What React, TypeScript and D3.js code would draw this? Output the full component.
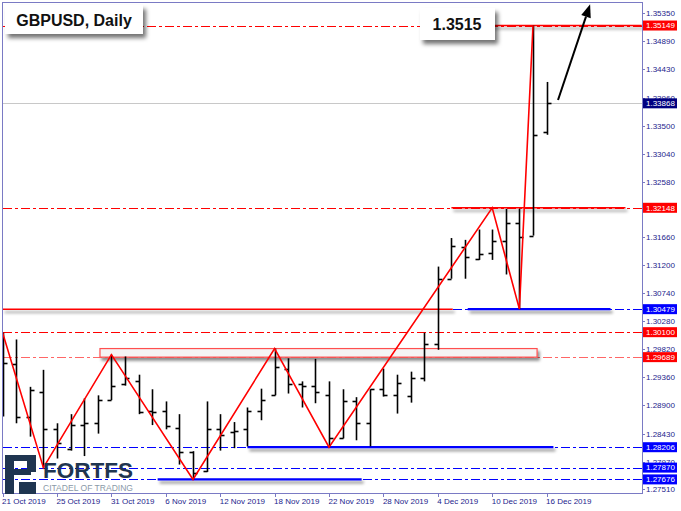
import React from 'react';
import * as d3 from 'd3';

// ---------- data ----------
const dates = [
  '21 Oct 2019','22 Oct 2019','23 Oct 2019','24 Oct 2019','25 Oct 2019','28 Oct 2019','29 Oct 2019','30 Oct 2019','31 Oct 2019',
  '1 Nov 2019','4 Nov 2019','5 Nov 2019','6 Nov 2019','7 Nov 2019','8 Nov 2019','11 Nov 2019','12 Nov 2019','13 Nov 2019',
  '14 Nov 2019','15 Nov 2019','18 Nov 2019','19 Nov 2019','20 Nov 2019','21 Nov 2019','22 Nov 2019','25 Nov 2019','26 Nov 2019',
  '27 Nov 2019','28 Nov 2019','29 Nov 2019','2 Dec 2019','3 Dec 2019','4 Dec 2019','5 Dec 2019','6 Dec 2019','9 Dec 2019',
  '10 Dec 2019','11 Dec 2019','12 Dec 2019','13 Dec 2019','16 Dec 2019'
];
const openP = [1.2998,1.2958,1.2870,1.2911,1.2850,1.2817,1.2857,1.2860,1.2899,1.2924,1.2930,1.2880,1.2880,1.2852,1.2812,1.2781,1.2850,1.2845,1.2850,1.2881,1.2906,1.2950,1.2924,1.2921,1.2906,1.2835,1.2896,1.2861,1.2916,1.2906,1.2905,1.2935,1.2990,1.3098,1.3151,1.3131,1.3141,1.3160,1.3190,1.3169,1.3340];
const highP = [1.3009,1.2998,1.2920,1.2948,1.2860,1.2875,1.2901,1.2906,1.2973,1.2970,1.2940,1.2916,1.2896,1.2875,1.2814,1.2896,1.2875,1.2862,1.2886,1.2917,1.2983,1.2967,1.2929,1.2966,1.2929,1.2916,1.2903,1.2916,1.2950,1.2940,1.2945,1.3009,1.3118,1.3165,1.3162,1.3179,1.3179,1.3213,1.3213,1.35149,1.3422];
const lowP  = [1.2871,1.2860,1.2838,1.2787,1.2802,1.2815,1.2806,1.2843,1.2898,1.2922,1.2875,1.2857,1.2850,1.2792,1.27676,1.2780,1.2815,1.2819,1.2822,1.2865,1.2906,1.2909,1.2886,1.2893,1.28206,1.2835,1.2832,1.2822,1.2904,1.2876,1.2894,1.2929,1.2981,1.3098,1.3098,1.3129,1.3129,1.3105,1.30479,1.3169,1.3335];
const closeP= [1.2960,1.2870,1.2914,1.2850,1.2827,1.2857,1.2860,1.2899,1.2922,1.2935,1.2878,1.2878,1.2855,1.2813,1.2778,1.2850,1.2840,1.2847,1.2881,1.2898,1.2952,1.2925,1.2921,1.2911,1.2835,1.2896,1.2861,1.2917,1.2906,1.2926,1.2935,1.2990,1.3098,1.3152,1.3134,1.3139,1.3160,1.3190,1.3167,1.3335,1.33868];

const priceTicks = ['1.35350','1.34890','1.34430','1.33960','1.33500','1.33040','1.32580','1.31660','1.31200','1.30740','1.30280','1.29820','1.29360','1.28900','1.28430','1.27970','1.27510'];
const dateTickStep = 4;

const levels = [1.35149, 1.32148, 1.30479, 1.30100, 1.29689, 1.28206, 1.27870, 1.27676];
const levelKinds = ['res', 'res', 'sup', 'res', 'res', 'sup', 'sup', 'sup'];
const lastPrice = 1.33868;

const zzIndex = [0, 3, 8, 14, 20, 24, 36, 38, 39];
const zzPrice = [1.3009, 1.2787, 1.2973, 1.27676, 1.2983, 1.28206, 1.32148, 1.30479, 1.35149];

const segFrom  = [34.4, 33.0, 0, 34.2, 18.0, 11.4];
const segTo    = [47.0, 45.8, 33.1, 44.7, 40.5, 26.4];
const segPrice = [1.35149, 1.32148, 1.30479, 1.30479, 1.28206, 1.27676];
const segKind  = ['res', 'res', 'res', 'sup', 'sup', 'sup'];

const zoneFrom = 7.16, zoneTo = 39.3, zoneLow = 1.29689, zoneHigh = 1.2983;
const arrowFrom = [40.84, 1.33923];
const arrowTo = [43.2, 1.35499];

const title = 'GBPUSD, Daily';
const peakText = '1.3515';

// ---------- layout ----------
const W = 681, H = 511;
const L = 3, R = 642, T = 3, B = 493;
const RED = '#ff0000', BLUE = '#0000ff', NAVY = '#000080';
const FRAME = '#7a7ac4', LABEL = '#1c1c8c';
const DASH = '9,3,3,3';
const FONT = '"Liberation Sans", Arial, sans-serif';

export default function App() {
  const x = d3.scaleLinear().domain([0, 40]).range([2.6, 546.6]);
  const y = d3.scaleLinear().domain([1.27452, 1.3552]).range([B, T]);
  const kindColor = (k: string) => (k === 'res' ? RED : BLUE);
  const cr = (v: number) => Math.round(v) + 0.5;

  const zz = d3.line<number>().x((d, i) => x(zzIndex[i])).y((d) => y(d));

  const ax1 = x(arrowFrom[0]), ay1 = y(arrowFrom[1]);
  const ax2 = x(arrowTo[0]), ay2 = y(arrowTo[1]);
  const ang = Math.atan2(ay2 - ay1, ax2 - ax1);
  const hl = 13, hw = 5;
  const bx = ax2 - hl * Math.cos(ang), by = ay2 - hl * Math.sin(ang);
  const head = `M${ax2},${ay2} L${bx + hw * Math.sin(ang)},${by - hw * Math.cos(ang)} L${bx - hw * Math.sin(ang)},${by + hw * Math.cos(ang)} Z`;

  const labelBoxes = [
    ...levels.map((p, i) => ({ p, fill: levelKinds[i] === 'res' ? RED : BLUE })),
    { p: lastPrice, fill: NAVY },
  ];

  return (
    <svg width={W} height={H} style={{ position: 'absolute', left: 0, top: 0, background: '#fff' }} fontFamily={FONT}>
      <defs>
        <filter id="sh" filterUnits="userSpaceOnUse" x="0" y="0" width={W} height={H}>
          <feDropShadow dx="2" dy="3" stdDeviation="1.6" floodColor="#000" floodOpacity="0.45" />
        </filter>
        <filter id="shb" filterUnits="userSpaceOnUse" x="0" y="0" width={W} height={H}>
          <feDropShadow dx="3" dy="4" stdDeviation="2.2" floodColor="#000" floodOpacity="0.55" />
        </filter>
        <clipPath id="plot"><rect x={L} y={T} width={R - L} height={B - T} /></clipPath>
      </defs>
      <rect x={0} y={0} width={W} height={H} fill="#fff" />

      <g clipPath="url(#plot)">
        <line x1={L} x2={R} y1={cr(y(lastPrice))} y2={cr(y(lastPrice))} stroke="#c8c8c8" strokeWidth={1} />
        {levels.map((p, i) => (
          <line key={'lv' + i} x1={L} x2={R} y1={cr(y(p))} y2={cr(y(p))} stroke={kindColor(levelKinds[i])}
            strokeOpacity={i === 4 ? 0.6 : 1} strokeWidth={1} strokeDasharray={DASH} />
        ))}
        <rect x={x(zoneFrom)} y={y(zoneHigh)} width={x(zoneTo) - x(zoneFrom)} height={y(zoneLow) - y(zoneHigh)}
          fill="#f4f4f4" stroke="#ff5050" strokeWidth={1.2} filter="url(#sh)" />
        {segPrice.map((p, i) => (
          <line key={'sg' + i} x1={x(segFrom[i])} x2={x(segTo[i])} y1={y(p)} y2={y(p)}
            stroke={kindColor(segKind[i])} strokeWidth={segKind[i] === 'sup' ? 2.2 : 1.5} filter="url(#sh)" />
        ))}
        {dates.map((d, i) => {
          const xi = cr(x(i));
          return (
            <g key={'b' + i} stroke="#000" strokeWidth={1.6}>
              <line x1={xi} x2={xi} y1={y(highP[i])} y2={y(lowP[i])} />
              <line x1={xi - 4} x2={xi} y1={cr(y(openP[i]))} y2={cr(y(openP[i]))} />
              <line x1={xi} x2={xi + 4} y1={cr(y(closeP[i]))} y2={cr(y(closeP[i]))} />
            </g>
          );
        })}
        <path d={zz(zzPrice) || ''} fill="none" stroke={RED} strokeWidth={1.6} strokeLinejoin="miter" />
        <line x1={ax1} y1={ay1} x2={bx} y2={by} stroke="#000" strokeWidth={2} />
        <path d={head} fill="#000" />
      </g>

      <rect x={L - 0.5} y={T - 0.5} width={R - L + 1} height={B - T + 1} fill="none" stroke={FRAME} strokeWidth={1} />

      <rect x={5} y={5} width={138} height={29} fill="#fff" filter="url(#shb)" />
      <text x={74} y={26} textAnchor="middle" fontSize={16} fontWeight="bold" fill="#111">{title}</text>

      <rect x={420} y={8} width={75} height={32} fill="#fff" filter="url(#shb)" />
      <text x={457} y={30} textAnchor="middle" fontSize={16} fontWeight="bold" fill="#111">{peakText}</text>

      <g fill="#1f3550">
        <rect x={5} y={455} width={31} height={6} />
        <rect x={5} y={455} width={9} height={39} />
        <rect x={27} y={455} width={9} height={17} />
        <rect x={14} y={469} width={17} height={6} />
        <rect x={19} y={482} width={17} height={12} />
        <text x={43} y={478} fontSize={21.5} fontWeight="bold" textLength={90} lengthAdjust="spacingAndGlyphs">FORTFS</text>
      </g>
      <text x={43} y={491} fontSize={9.5} fill="#8a99a8" textLength={90} lengthAdjust="spacingAndGlyphs">CITADEL OF TRADING</text>

      {priceTicks.map((t, i) => {
        const yy = cr(y(+t));
        return (
          <g key={'pt' + i}>
            <line x1={R} x2={R + 3} y1={yy} y2={yy} stroke={FRAME} />
            <text x={646} y={yy} dy="0.35em" fontSize={8} fill={LABEL}>{t}</text>
          </g>
        );
      })}
      {labelBoxes.map((b, i) => {
        const yy = y(b.p);
        return (
          <g key={'lb' + i}>
            <rect x={643} y={yy - 5} width={34} height={10} fill={b.fill} />
            <text x={646} y={yy} dy="0.35em" fontSize={8} fill="#fff">{b.p.toFixed(5)}</text>
          </g>
        );
      })}

      {dates.map((d, i) => (i % dateTickStep === 0 ? (
        <g key={'dt' + i}>
          <line x1={cr(x(i))} x2={cr(x(i))} y1={B} y2={B + 4} stroke={FRAME} />
          <text x={x(i) - 0.5} y={504} fontSize={8} fill={LABEL}>{d}</text>
        </g>
      ) : null))}
    </svg>
  );
}
